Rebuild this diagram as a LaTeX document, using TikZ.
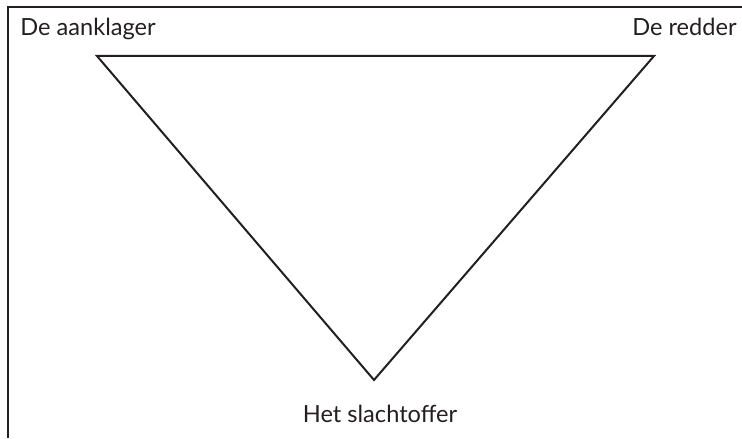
\documentclass[tikz,border=0pt]{standalone}
\usepackage{fontspec}
\setmainfont{Lato}
\usepackage{tikz}
\usetikzlibrary{positioning}
\definecolor{mInk}{HTML}{231F20}

\begin{document}
\begin{tikzpicture}[x=0.5pt, y=0.5pt,
      rol/.style={inner sep=0pt, text=mInk, font=\fontsize{11.8}{14}\selectfont},
      frame/.style={draw=mInk, line width=0.65pt},
      edge/.style={draw=mInk, line width=1pt, line join=miter}]
    \useasboundingbox (0,0) rectangle (742,438);
    % frame (left and top only)
    \coordinate (fb) at (8,0);
    \coordinate (fc) at (8,431);
    \coordinate (fr) at (742,431);
    \draw[frame] (fb) -- (fc) -- (fr);
    % corners of the triangle
    \coordinate (vA) at (97,382);
    \coordinate (vR) at (654,382);
    \coordinate (vS) at (374,58);
    \draw[edge] (vA) -- (vR) -- (vS) -- cycle;
    % roles
    \node[rol, anchor=base west] (aanklager) at (20,402) {De aanklager};
    \node[rol, anchor=base east] (redder) at (737,402) {De redder};
    \node[rol, anchor=base] (slachtoffer) at (380,16) {Het slachtoffer};
  \end{tikzpicture}
\end{document}
